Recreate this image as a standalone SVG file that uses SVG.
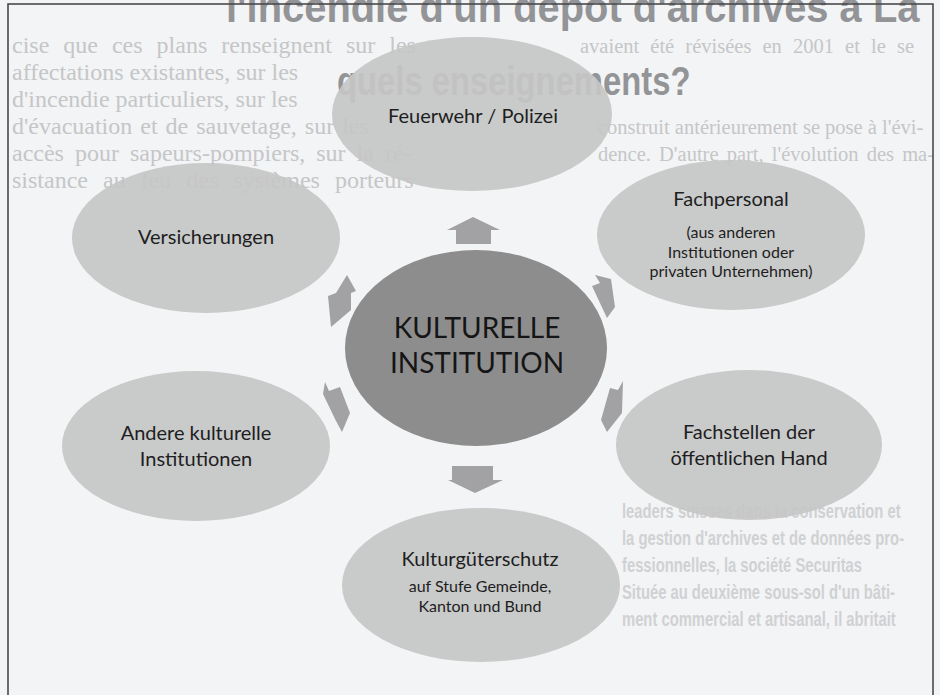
<svg xmlns="http://www.w3.org/2000/svg" width="940" height="695" viewBox="0 0 940 695">
<style>
.bg{font-family:"Liberation Serif",serif;font-size:24px;fill:#c5c6c8}
.bgr{font-family:"Liberation Serif",serif;font-size:20.5px;fill:#c5c6c8}
.bgb{font-family:"Liberation Sans",sans-serif;font-size:20px;font-weight:bold;fill:#d0d1d3}
.title{font-family:"Liberation Sans",sans-serif;font-weight:bold;fill:#939497}
.node{fill:#c5c5c6;fill-opacity:0.92}
.hub{fill:#8d8d8e}
.arrow{fill:#a2a2a4}
.t{font-family:Lato,"Open Sans",sans-serif;font-size:20px;fill:#1e1e1e;text-anchor:middle}
.s{font-family:Lato,"Open Sans",sans-serif;font-size:16px;fill:#1e1e1e;text-anchor:middle}
.h{font-family:Lato,"Open Sans",sans-serif;font-size:28px;fill:#151515;text-anchor:middle}
</style>
<rect width="940" height="695" fill="#f3f4f5"/>
<g id="background-text">
<text class="title" font-size="42" transform="translate(226,22) scale(0.95,1)">l'incendie d'un dépôt d'archives à La</text>
<text class="title" font-size="40" transform="translate(337,95) scale(0.82,1)">quels enseignements?</text>
<text class="bg" x="12" y="53" word-spacing="8">cise que ces plans renseignent sur les</text>
<text class="bgr" x="580" y="53" word-spacing="6">avaient été révisées en 2001 et le se</text>
<text class="bg" x="12" y="80">affectations existantes, sur les</text>
<text class="bg" x="12" y="107">d'incendie particuliers, sur les</text>
<text class="bg" x="12" y="134" word-spacing="2">d'évacuation et de sauvetage, sur les</text>
<text class="bgr" x="598" y="134">construit antérieurement se pose à l'évi-</text>
<text class="bg" x="12" y="161" word-spacing="5">accès pour sapeurs-pompiers, sur la ré-</text>
<text class="bgr" x="598" y="161" word-spacing="3">dence. D'autre part, l'évolution des ma-</text>
<text class="bg" x="12" y="188" word-spacing="9">sistance au feu des systèmes porteurs</text>
<text class="bgb" transform="translate(622,518) scale(0.74,1)">leaders suisses dans la conservation et</text>
<text class="bgb" transform="translate(622,545) scale(0.74,1)">la gestion d'archives et de données pro-</text>
<text class="bgb" transform="translate(622,572) scale(0.74,1)">fessionnelles, la société Securitas</text>
<text class="bgb" transform="translate(622,599) scale(0.74,1)">Située au deuxième sous-sol d'un bâti-</text>
<text class="bgb" transform="translate(622,626) scale(0.74,1)">ment commercial et artisanal, il abritait</text>
</g>
<rect x="8" y="4" width="925" height="700" fill="none" stroke="#4a4a4c" stroke-width="1.6"/>
<g id="connectors">
<polygon class="arrow" points="473,217 500,230 491,230 491,244 456,244 456,230 447,230"/>
<polygon class="arrow" points="452,466 493,466 493,480 503,480 475,493 448,480 452,480"/>
<polygon class="arrow" points="347,275 356,291 351,293 351,310 331,327 328,296 336,293"/>
<polygon class="arrow" points="595,275 611,279 615,307 607,318 592,286 600,283"/>
<polygon class="arrow" points="325,382 329,391 340,387 350,413 342,432 336,421 323,394"/>
<polygon class="arrow" points="623,381 622,413 607,432 601,420 610,388 618,390"/>
</g>
<g id="node-feuerwehr">
<ellipse class="node" cx="472" cy="114" rx="140" ry="77"/>
<text class="t" x="473" y="123">Feuerwehr / Polizei</text>
</g>
<g id="node-versicherungen">
<ellipse class="node" cx="206" cy="238" rx="134" ry="75"/>
<text class="t" x="206" y="244">Versicherungen</text>
</g>
<g id="node-fachpersonal">
<ellipse class="node" cx="731" cy="235" rx="134" ry="75"/>
<text class="t" x="731" y="206">Fachpersonal</text>
<text class="s" x="731" y="238">(aus anderen</text>
<text class="s" x="731" y="258">Institutionen oder</text>
<text class="s" x="731" y="277">privaten Unternehmen)</text>
</g>
<g id="node-andere">
<ellipse class="node" cx="196" cy="446" rx="134" ry="75"/>
<text class="t" x="196" y="440">Andere kulturelle</text>
<text class="t" x="196" y="466">Institutionen</text>
</g>
<g id="node-fachstellen">
<ellipse class="node" cx="749" cy="445" rx="133" ry="75"/>
<text class="t" x="749" y="439">Fachstellen der</text>
<text class="t" x="749" y="465">öffentlichen Hand</text>
</g>
<g id="node-kgs">
<ellipse class="node" cx="481" cy="585" rx="139" ry="77"/>
<text class="t" x="480" y="566">Kulturgüterschutz</text>
<text class="s" x="480" y="592">auf Stufe Gemeinde,</text>
<text class="s" x="480" y="612">Kanton und Bund</text>
</g>
<g id="node-center">
<ellipse class="hub" cx="476" cy="348" rx="131" ry="98"/>
<text class="h" x="477" y="338">KULTURELLE</text>
<text class="h" x="477" y="373">INSTITUTION</text>
</g>
</svg>
